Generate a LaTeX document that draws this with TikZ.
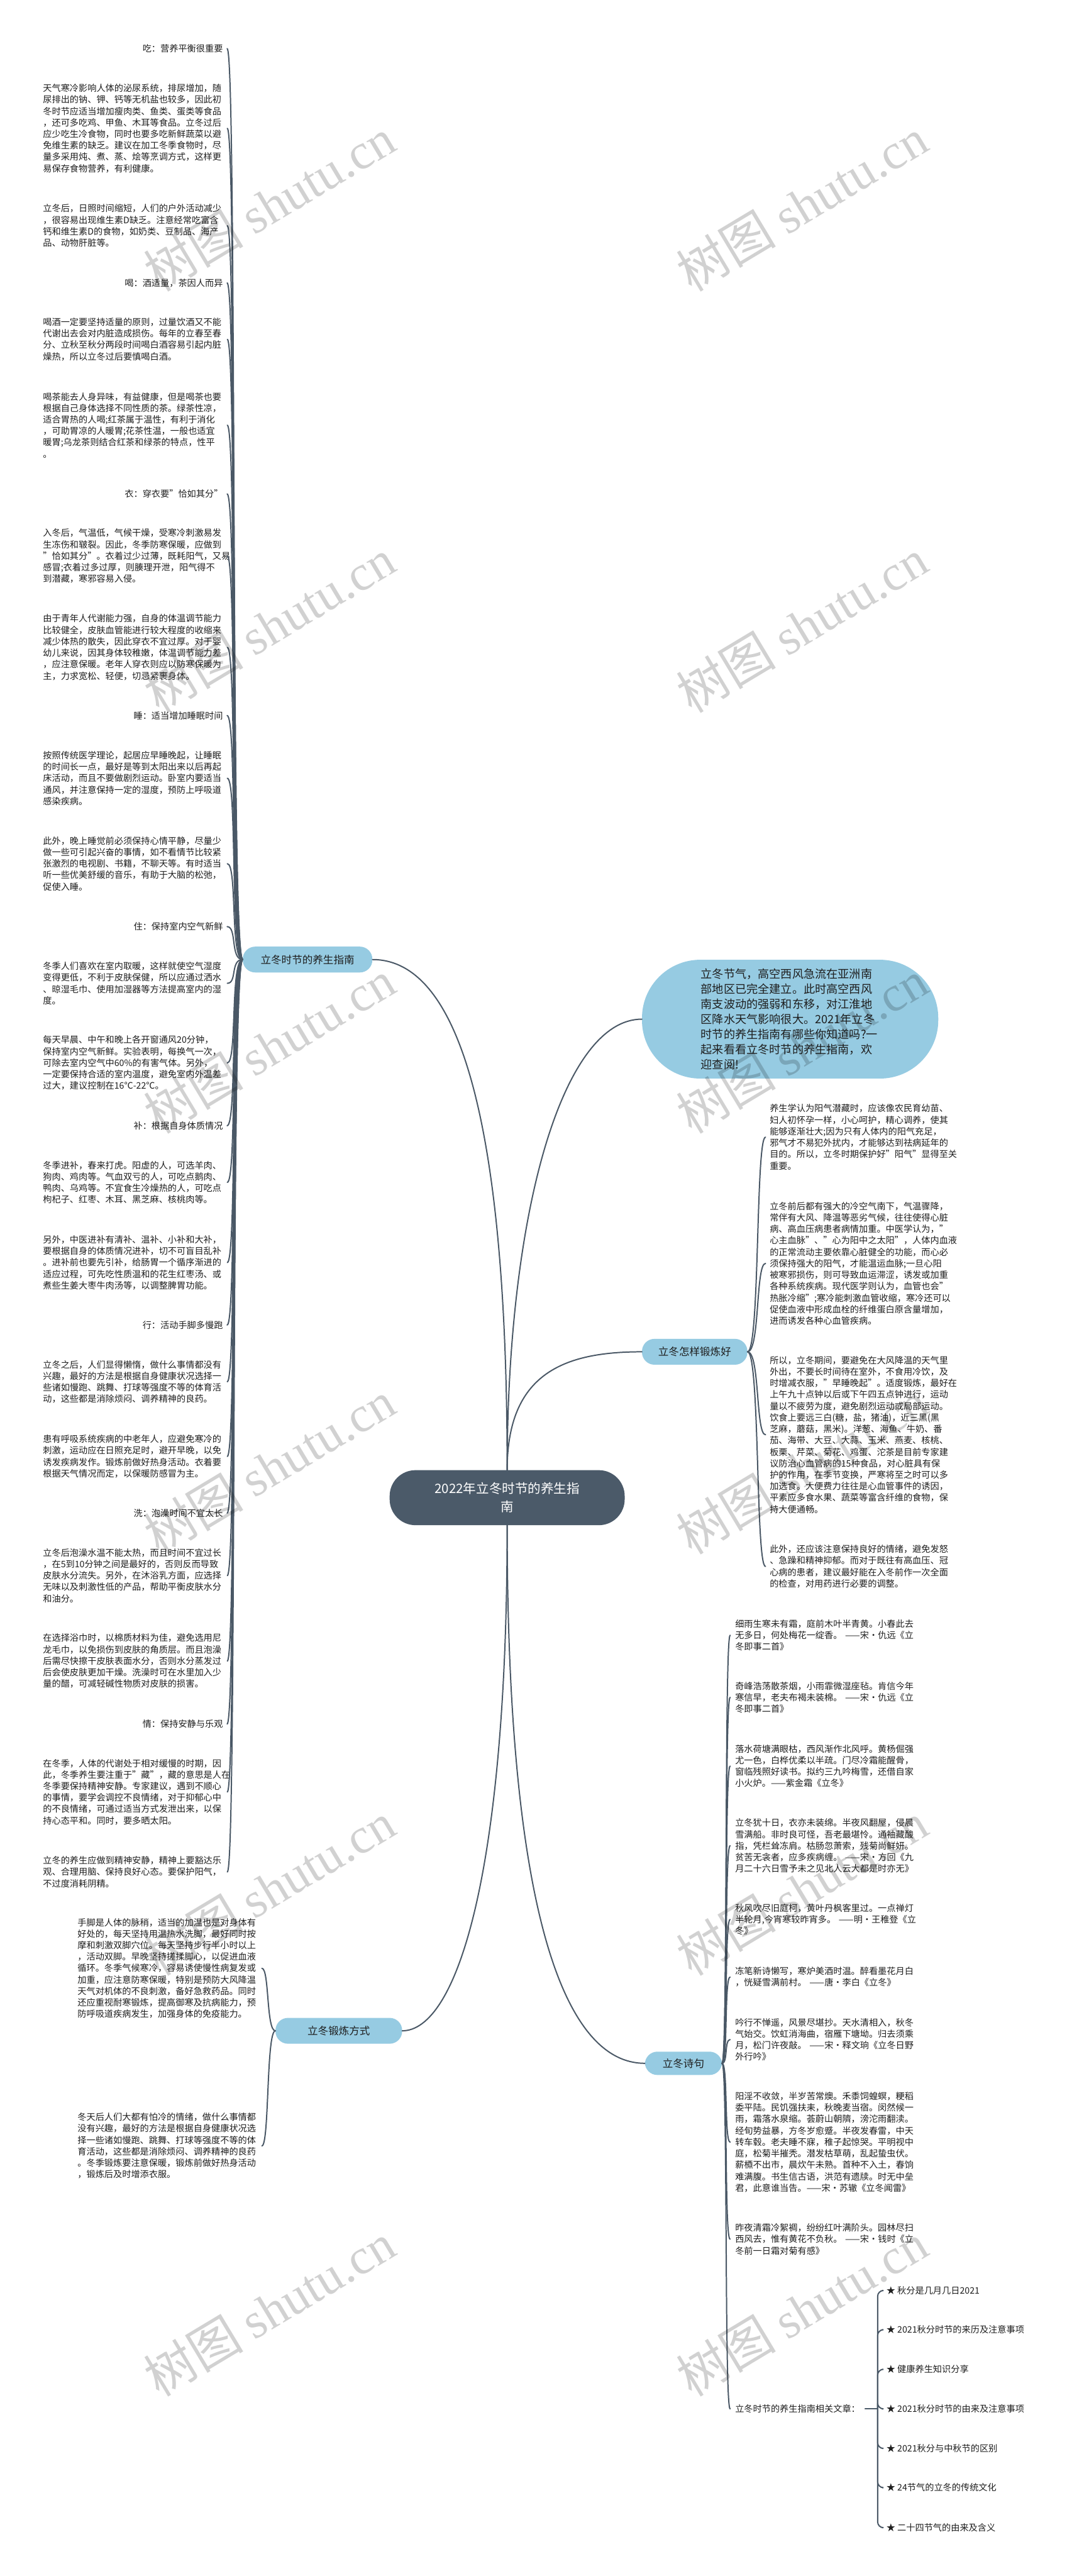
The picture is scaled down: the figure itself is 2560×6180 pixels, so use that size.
\documentclass[tikz,border=0pt]{standalone}
\usepackage{fontspec}
\setmainfont{Noto Sans CJK SC}
\newfontfamily\wmserif{Liberation Serif}
\usetikzlibrary{calc}
\definecolor{linec}{HTML}{4A5866}
\definecolor{bubblec}{HTML}{96CBE2}
\definecolor{corec}{HTML}{4B5A69}
\definecolor{txtc}{HTML}{1E1E1E}
\begin{document}
\begin{tikzpicture}[x=1pt,y=-1pt,
  conn/.style={draw=linec, line width=3pt, line cap=round},
  bodyL/.style={anchor=west, inner sep=0pt, text width=432pt, align=left, text=txtc, font=\fontsize{21.4}{27.5}\selectfont},
  headL/.style={anchor=east, inner sep=0pt, text width=432pt, align=right, text=txtc, font=\fontsize{21.4}{27.5}\selectfont},
  bodyR/.style={anchor=west, inner sep=0pt, text width=445pt, align=left, text=txtc, font=\fontsize{21.4}{27.5}\selectfont},
  branch/.style={fill=bubblec, rounded corners=30pt, inner sep=0pt, minimum height=62pt, text=txtc, font=\fontsize{25}{30}\selectfont},
  wm/.style={rotate=31, text=black, text opacity=0.18, font=\fontsize{120}{120}\selectfont, inner sep=0pt}
]
\fill[white] (0,0) rectangle (2560,6180);
\useasboundingbox (0,0) rectangle (2560,6180);

% ---------- centre and branches ----------
\node[fill=corec, rounded corners=62pt, minimum width=564pt, minimum height=132pt, inner sep=0pt, text=white, align=center, font=\fontsize{31}{44}\selectfont] (core) at (1217,3593) {2022年立冬时节的养生指\\南};

\node[branch, minimum width=311pt] (lb) at (738,2302) {立冬时节的养生指南};
\node[branch, minimum width=253pt] (rb) at (1667,3243) {立冬怎样锻炼好};
\node[branch, minimum width=304pt] (dl) at (813,4872) {立冬锻炼方式};
\node[branch, minimum width=185pt, minimum height=56pt] (sj) at (1640,4950) {立冬诗句};

\node[fill=bubblec, rounded corners=140pt, minimum width=711pt, minimum height=285pt, inner sep=0pt, text width=428pt, align=left, text=txtc, font=\fontsize{27.4}{36.3}\selectfont] (intro) at (1896,2445) {立冬节气，高空西风急流在亚洲南\\部地区已完全建立。此时高空西风\\南支波动的强弱和东移，对江淮地\\区降水天气影响很大。2021年立冬\\时节的养生指南有哪些你知道吗?一\\起来看看立冬时节的养生指南，欢\\迎查阅!};

\draw[conn] (core.north) .. controls +(0,-830) and +(210,0) .. (lb.east);
\draw[conn] (core.north) .. controls +(0,-620) and +(-190,0) .. (intro.west);
\draw[conn] (core.north) .. controls +(0,-230) and +(-190,0) .. (rb.west);
\draw[conn] (core.south) .. controls +(0,840) and +(130,0) .. (dl.east);
\draw[conn] (core.south) .. controls +(0,940) and +(-190,0) .. (sj.west);

% ---------- left branch children ----------
\node[headL] (L1) at (535,116.5) {吃：营养平衡很重要};
\node[bodyL] (L2) at (103,308) {天气寒冷影响人体的泌尿系统，排尿增加，随\\尿排出的钠、钾、钙等无机盐也较多，因此初\\冬时节应适当增加瘦肉类、鱼类、蛋类等食品\\，还可多吃鸡、甲鱼、木耳等食品。立冬过后\\应少吃生冷食物，同时也要多吃新鲜蔬菜以避\\免维生素的缺乏。建议在加工冬季食物时，尽\\量多采用炖、煮、蒸、烩等烹调方式，这样更\\易保存食物营养，有利健康。};
\node[bodyL] (L3) at (103,541.5) {立冬后，日照时间缩短，人们的户外活动减少\\，很容易出现维生素D缺乏。注意经常吃富含\\钙和维生素D的食物，如奶类、豆制品、海产\\品、动物肝脏等。};
\node[headL] (L4) at (535,678.7) {喝：酒适量，茶因人而异};
\node[bodyL] (L5) at (103,814) {喝酒一定要坚持适量的原则，过量饮酒又不能\\代谢出去会对内脏造成损伤。每年的立春至春\\分、立秋至秋分两段时间喝白酒容易引起内脏\\燥热，所以立冬过后要慎喝白酒。};
\node[bodyL] (L6) at (103,1020) {喝茶能去人身异味，有益健康，但是喝茶也要\\根据自己身体选择不同性质的茶。绿茶性凉，\\适合胃热的人喝;红茶属于温性，有利于消化\\，可助胃凉的人暖胃;花茶性温，一般也适宜\\暖胃;乌龙茶则结合红茶和绿茶的特点，性平\\。};
\node[headL] (L7) at (535,1185) {衣：穿衣要"恰如其分"};
\node[bodyL] (L8) at (103,1334) {入冬后，气温低，气候干燥，受寒冷刺激易发\\生冻伤和皲裂。因此，冬季防寒保暖，应做到\\"恰如其分"。衣着过少过薄，既耗阳气，又易\\感冒;衣着过多过厚，则腠理开泄，阳气得不\\到潜藏，寒邪容易入侵。};
\node[bodyL] (L9) at (103,1553) {由于青年人代谢能力强，自身的体温调节能力\\比较健全，皮肤血管能进行较大程度的收缩来\\减少体热的散失，因此穿衣不宜过厚。对于婴\\幼儿来说，因其身体较稚嫩，体温调节能力差\\，应注意保暖。老年人穿衣则应以防寒保暖为\\主，力求宽松、轻便，切忌紧裹身体。};
\node[headL] (L10) at (535,1716.5) {睡：适当增加睡眠时间};
\node[bodyL] (L11) at (103,1867) {按照传统医学理论，起居应早睡晚起，让睡眠\\的时间长一点，最好是等到太阳出来以后再起\\床活动，而且不要做剧烈运动。卧室内要适当\\通风，并注意保持一定的湿度，预防上呼吸道\\感染疾病。};
\node[bodyL] (L12) at (103,2072) {此外，晚上睡觉前必须保持心情平静，尽量少\\做一些可引起兴奋的事情，如不看情节比较紧\\张激烈的电视剧、书籍，不聊天等。有时适当\\听一些优美舒缓的音乐，有助于大脑的松弛，\\促使入睡。};
\node[headL] (L13) at (535,2223) {住：保持室内空气新鲜};
\node[bodyL] (L14) at (103,2359) {冬季人们喜欢在室内取暖，这样就使空气湿度\\变得更低，不利于皮肤保健，所以应通过洒水\\、晾湿毛巾、使用加湿器等方法提高室内的湿\\度。};
\node[bodyL] (L15) at (103,2550) {每天早晨、中午和晚上各开窗通风20分钟，\\保持室内空气新鲜。实验表明，每换气一次，\\可除去室内空气中60\%的有害气体。另外，\\一定要保持合适的室内温度，避免室内外温差\\过大，建议控制在16℃-22℃。};
\node[headL] (L16) at (535,2700.6) {补：根据自身体质情况};
\node[bodyL] (L17) at (103,2836.5) {冬季进补，春来打虎。阳虚的人，可选羊肉、\\狗肉、鸡肉等。气血双亏的人，可吃点鹅肉、\\鸭肉、乌鸡等。不宜食生冷燥热的人，可吃点\\枸杞子、红枣、木耳、黑芝麻、核桃肉等。};
\node[bodyL] (L18) at (103,3029) {另外，中医进补有清补、温补、小补和大补，\\要根据自身的体质情况进补，切不可盲目乱补\\。进补前也要先引补，给肠胃一个循序渐进的\\适应过程，可先吃性质温和的花生红枣汤、或\\煮些生姜大枣牛肉汤等，以调整脾胃功能。};
\node[headL] (L19) at (535,3179) {行：活动手脚多慢跑};
\node[bodyL] (L20) at (103,3315) {立冬之后，人们显得懒惰，做什么事情都没有\\兴趣，最好的方法是根据自身健康状况选择一\\些诸如慢跑、跳舞、打球等强度不等的体育活\\动，这些都是消除烦闷、调养精神的良药。};
\node[bodyL] (L21) at (103,3494) {患有呼吸系统疾病的中老年人，应避免寒冷的\\刺激，运动应在日照充足时，避开早晚，以免\\诱发疾病发作。锻炼前做好热身活动。衣着要\\根据天气情况而定，以保暖防感冒为主。};
\node[headL] (L22) at (535,3630) {洗：泡澡时间不宜太长};
\node[bodyL] (L23) at (103,3780) {立冬后泡澡水温不能太热，而且时间不宜过长\\，在5到10分钟之间是最好的，否则反而导致\\皮肤水分流失。另外，在沐浴乳方面，应选择\\无味以及刺激性低的产品，帮助平衡皮肤水分\\和油分。};
\node[bodyL] (L24) at (103,3985) {在选择浴巾时，以棉质材料为佳，避免选用尼\\龙毛巾，以免损伤到皮肤的角质层。而且泡澡\\后需尽快擦干皮肤表面水分，否则水分蒸发过\\后会使皮肤更加干燥。洗澡时可在水里加入少\\量的醋，可减轻碱性物质对皮肤的损害。};
\node[headL] (L25) at (535,4136) {情：保持安静与乐观};
\node[bodyL] (L26) at (103,4299) {在冬季，人体的代谢处于相对缓慢的时期，因\\此，冬季养生要注重于"藏"，藏的意思是人在\\冬季要保持精神安静。专家建议，遇到不顺心\\的事情，要学会调控不良情绪，对于抑郁心中\\的不良情绪，可通过适当方式发泄出来，以保\\持心态平和。同时，要多晒太阳。};
\node[bodyL] (L27) at (103,4491) {立冬的养生应做到精神安静，精神上要豁达乐\\观、合理用脑、保持良好心态。要保护阳气，\\不过度消耗阴精。};

\foreach \i in {1,...,27}
  \draw[conn] (lb.west) .. controls +(-30,0) and +(24,0) .. ([xshift=10pt]L\i.east);

% ---------- right branch children ----------
\node[bodyR] (R1) at (1847,2728) {养生学认为阳气潜藏时，应该像农民育幼苗、\\妇人初怀孕一样，小心呵护，精心调养，使其\\能够逐渐壮大;因为只有人体内的阳气充足，\\邪气才不易犯外扰内，才能够达到祛病延年的\\目的。所以，立冬时期保护好"阳气"显得至关\\重要。};
\node[bodyR] (R2) at (1847,3031) {立冬前后都有强大的冷空气南下，气温骤降，\\常伴有大风、降温等恶劣气候，往往使得心脏\\病、高血压病患者病情加重。中医学认为，"\\心主血脉"、"心为阳中之太阳"，人体内血液\\的正常流动主要依靠心脏健全的功能，而心必\\须保持强大的阳气，才能温运血脉;一旦心阳\\被寒邪损伤，则可导致血运滞涩，诱发或加重\\各种系统疾病。现代医学则认为，血管也会"\\热胀冷缩";寒冷能刺激血管收缩，寒冷还可以\\促使血液中形成血栓的纤维蛋白原含量增加，\\进而诱发各种心血管疾病。};
\node[bodyR] (R3) at (1847,3442) {所以，立冬期间，要避免在大风降温的天气里\\外出，不要长时间待在室外，不食用冷饮，及\\时增减衣服，"早睡晚起"。适度锻炼，最好在\\上午九十点钟以后或下午四五点钟进行，运动\\量以不疲劳为度，避免剧烈运动或局部运动。\\饮食上要远三白(糖，盐，猪油)，近三黑(黑\\芝麻，蘑菇，黑米)。洋葱、海鱼、牛奶、番\\茄、海带、大豆、大蒜、玉米、燕麦、核桃、\\板栗、芹菜、菊花、鸡蛋、沱茶是目前专家建\\议防治心血管病的15种食品，对心脏具有保\\护的作用，在季节变换，严寒将至之时可以多\\加选食。大便费力往往是心血管事件的诱因，\\平素应多食水果、蔬菜等富含纤维的食物，保\\持大便通畅。};
\node[bodyR] (R4) at (1847,3758) {此外，还应该注意保持良好的情绪，避免发怒\\、急躁和精神抑郁。而对于既往有高血压、冠\\心病的患者，建议最好能在入冬前作一次全面\\的检查，对用药进行必要的调整。};

\foreach \i in {1,...,4}
  \draw[conn] (rb.east) .. controls +(30,0) and +(-24,0) .. ([xshift=-10pt]R\i.west);

% ---------- 立冬锻炼方式 ----------
\node[bodyL, text width=430pt] (D1) at (186,4722) {手脚是人体的脉稍，适当的加温也是对身体有\\好处的，每天坚持用温热水洗脚，最好同时按\\摩和刺激双脚穴位。每天坚持步行半小时以上\\，活动双脚。早晚坚持搓揉脚心，以促进血液\\循环。冬季气候寒冷，容易诱使慢性病复发或\\加重，应注意防寒保暖，特别是预防大风降温\\天气对机体的不良刺激，备好急救药品。同时\\还应重视耐寒锻炼，提高御寒及抗病能力，预\\防呼吸道疾病发生，加强身体的免疫能力。};
\node[bodyL, text width=430pt] (D2) at (186,5148) {冬天后人们大都有怕冷的情绪，做什么事情都\\没有兴趣，最好的方法是根据自身健康状况选\\择一些诸如慢跑、跳舞、打球等强度不等的体\\育活动，这些都是消除烦闷、调养精神的良药\\。冬季锻炼要注意保暖，锻炼前做好热身活动\\，锻炼后及时增添衣服。};

\foreach \i in {1,2}
  \draw[conn] (dl.west) .. controls +(-22,0) and +(18,0) .. ([xshift=12pt]D\i.east);

% ---------- 立冬诗句 ----------
\node[bodyR] (P1) at (1764,3923) {细雨生寒未有霜，庭前木叶半青黄。小春此去\\无多日，何处梅花一绽香。 ——宋·仇远《立\\冬即事二首》};
\node[bodyR] (P2) at (1764,4072) {奇峰浩荡散茶烟，小雨霏微湿座毡。肯信今年\\寒信早，老夫布褐未装棉。 ——宋·仇远《立\\冬即事二首》};
\node[bodyR] (P3) at (1764,4237) {落水荷塘满眼枯，西风渐作北风呼。黄杨倔强\\尤一色，白桦优柔以半疏。门尽冷霜能醒骨，\\窗临残照好读书。拟约三九吟梅雪，还借自家\\小火炉。——紫金霜《立冬》};
\node[bodyR] (P4) at (1764,4428) {立冬犹十日，衣亦未装绵。半夜风翻屋，侵晨\\雪满船。非时良可怪，吾老最堪怜。通袖藏酸\\指，凭栏耸冻肩。枯肠忽萧索，残菊尚鲜妍。\\贫苦无衾者，应多疾病缠。 ——宋·方回《九\\月二十六日雪予未之见北人云大都是时亦无》};
\node[bodyR] (P5) at (1764,4605) {秋风吹尽旧庭柯，黄叶丹枫客里过。一点禅灯\\半轮月,今宵寒较昨宵多。 ——明·王稚登《立\\冬》};
\node[bodyR] (P6) at (1764,4743) {冻笔新诗懒写，寒炉美酒时温。醉看墨花月白\\，恍疑雪满前村。 ——唐·李白《立冬》};
\node[bodyR] (P7) at (1764,4893) {吟行不惮遥，风景尽堪抄。天水清相入，秋冬\\气始交。饮虹消海曲，宿雁下塘坳。归去须乘\\月，松门许夜敲。 ——宋·释文珦《立冬日野\\外行吟》};
\node[bodyR] (P8) at (1764,5139) {阳淫不收敛，半岁苦常燠。禾黍饲蝗螟，粳稻\\委平陆。民饥强扶耒，秋晚麦当宿。闵然候一\\雨，霜落水泉缩。荟蔚山朝隮，滂沱雨翻渎。\\经旬势益暴，方冬岁愈蹙。半夜发春雷，中天\\转车毂。老夫睡不寐，稚子起惊哭。平明视中\\庭，松菊半摧秃。潜发枯草萌，乱起蛰虫伏。\\薪槱不出市，晨炊午未熟。首种不入土，春饷\\难满腹。书生信古语，洪范有遗牍。时无中垒\\君，此意谁当告。——宋·苏辙《立冬闻雷》};
\node[bodyR] (P9) at (1764,5372) {昨夜清霜冷絮裯，纷纷红叶满阶头。园林尽扫\\西风去，惟有黄花不负秋。 ——宋·钱时《立\\冬前一日霜对菊有感》};
\node[anchor=west, inner sep=0pt, text=txtc, font=\fontsize{21.4}{27.5}\selectfont] (P10) at (1764,5779) {立冬时节的养生指南相关文章：};

\foreach \i in {1,...,10}
  \draw[conn] (sj.east) .. controls +(14,0) and +(-14,0) .. ([xshift=-12pt]P\i.west);

% ---------- related articles ----------
\tikzset{star/.style={anchor=west, inner sep=0pt, text=txtc, font=\fontsize{21.4}{27.5}\selectfont}}
\node[star] (S1) at (2127,5495) {★ 秋分是几月几日2021};
\node[star] (S2) at (2127,5589) {★ 2021秋分时节的来历及注意事项};
\node[star] (S3) at (2127,5684) {★ 健康养生知识分享};
\node[star] (S4) at (2127,5779) {★ 2021秋分时节的由来及注意事项};
\node[star] (S5) at (2127,5874) {★ 2021秋分与中秋节的区别};
\node[star] (S6) at (2127,5968) {★ 24节气的立冬的传统文化};
\node[star] (S7) at (2127,6064) {★ 二十四节气的由来及含义};
\coordinate (hub) at ($(P10.east)+(42,0)$);
\draw[conn] ([xshift=12pt]P10.east) -- (hub);
\foreach \i in {1,...,7}
  \draw[conn, rounded corners=14pt] (hub) |- ([xshift=-10pt]S\i.west);

% ---------- watermarks ----------
\foreach \y in {491,1501,2511,3521,4531,5541} {
  \node[wm] at (646,\y) {树图 {\wmserif shutu.cn}};
  \node[wm] at (1924,\y) {树图 {\wmserif shutu.cn}};
}
\end{tikzpicture}
\end{document}
